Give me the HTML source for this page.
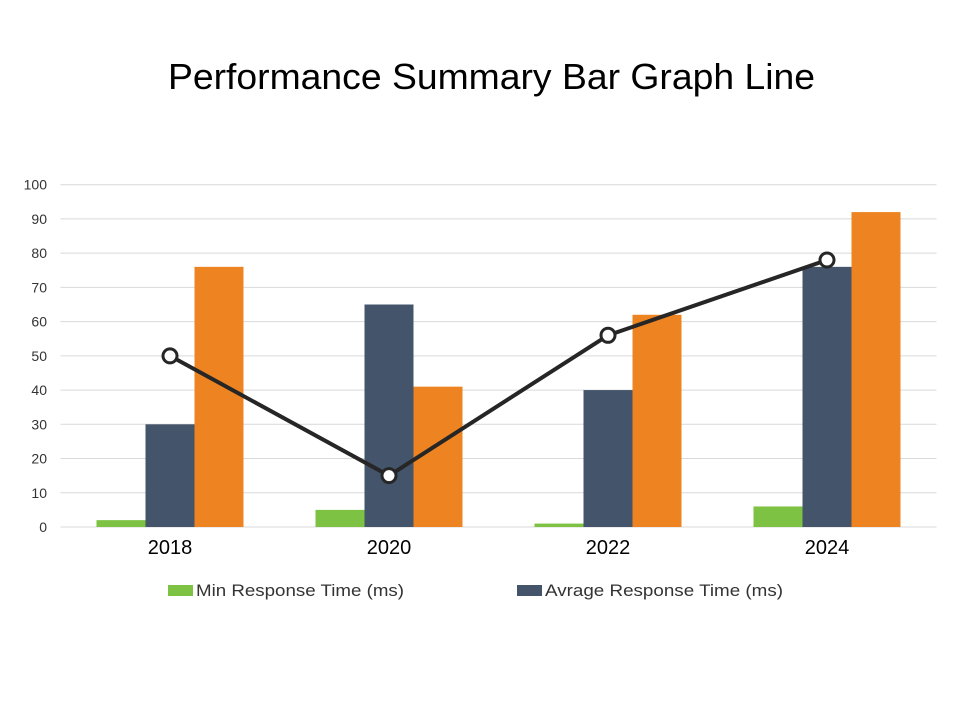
<!DOCTYPE html>
<html><head><meta charset="utf-8"><style>
body{margin:0;background:#fff;font-family:"Liberation Sans",Arial,sans-serif}
svg text{font-family:"Liberation Sans",Arial,sans-serif}
</style></head><body>
<svg id="chart" width="960" height="720">
<text x="168" y="89" font-size="36" textLength="647" lengthAdjust="spacingAndGlyphs" fill="#000">Performance Summary Bar Graph Line</text>
<g id="grid"></g><g id="bars"></g><g id="line"></g><g id="labels"></g>
<g>
<rect x="168" y="585" width="25" height="11" fill="#7dc242"/>
<text x="196" y="596" font-size="17" textLength="208" lengthAdjust="spacingAndGlyphs" fill="#333">Min Response Time (ms)</text>
<rect x="517" y="585" width="25" height="11" fill="#44546a"/>
<text x="545" y="596" font-size="17" textLength="238" lengthAdjust="spacingAndGlyphs" fill="#333">Avrage Response Time (ms)</text>
</g>
</svg>
<script>
const categories=["2018","2020","2022","2024"];
const minVals=[2,5,1,6];
const avgVals=[30,65,40,76];
const maxVals=[76,41,62,92];
const lineVals=[50,15,56,78];
const yTicks=[0,10,20,30,40,50,60,70,80,90,100];
const NS="http://www.w3.org/2000/svg";
const L=60.5,R=936.5,T=184.7,B=527;
const y=v=>B-(v/100)*(B-T);
const cw=(R-L)/categories.length, bw=49;
const x=i=>L+cw*i+cw/2;
function mk(p,tag,a){const e=document.createElementNS(NS,tag);for(const k in a)e.setAttribute(k,a[k]);document.getElementById(p).appendChild(e);return e;}
yTicks.forEach(t=>{
 const g=mk("grid","line",{x1:L,x2:R,y1:y(t),y2:y(t),stroke:"#d9d9d9","stroke-width":1});
 
 
 const tx=mk("grid","text",{x:47,y:y(t)+5,"font-size":14,"text-anchor":"end",fill:"#333"});tx.textContent=t;
 
 
});
const series=[[minVals,"#7dc242","min"],[avgVals,"#44546a","avg"],[maxVals,"#ee8421","max"]];
categories.forEach((c,i)=>{
 series.forEach((s,j)=>{
  const v=s[0][i];
  const r=mk("bars","rect",{x:x(i)-1.5*bw+j*bw,y:y(v),width:bw,height:B-y(v),fill:s[1]});
  
  
 });
 const t=mk("labels","text",{x:x(i),y:554,"font-size":20,"text-anchor":"middle",fill:"#000"});t.textContent=c;
 
 
});
const pl=mk("line","polyline",{points:lineVals.map((v,i)=>x(i)+","+y(v)).join(" "),fill:"none",stroke:"#262626","stroke-width":4});


lineVals.forEach((v,i)=>{
 const c=mk("line","circle",{cx:x(i),cy:y(v),r:7,fill:"#fff",stroke:"#262626","stroke-width":3});
 
 
});
</script>
</body></html>
